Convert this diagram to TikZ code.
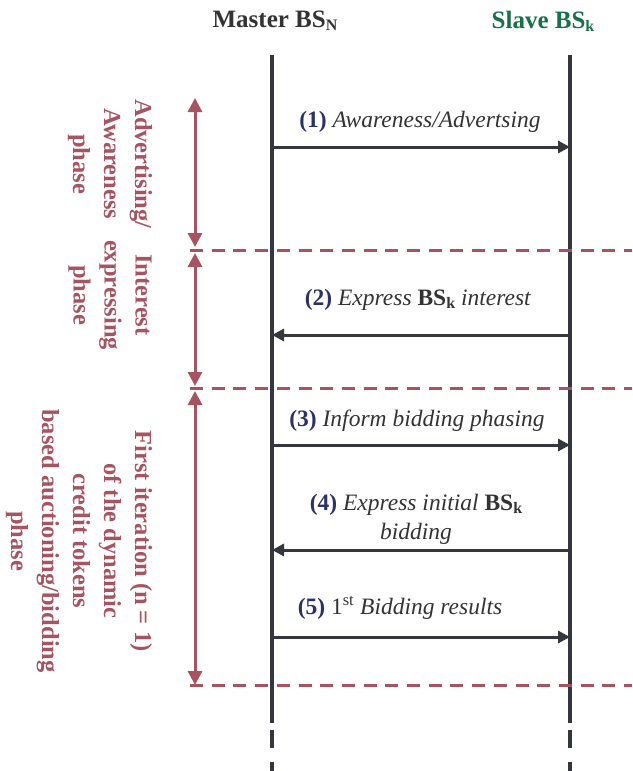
\documentclass[tikz,border=0pt]{standalone}
\usepackage{fontspec}
\setmainfont{Liberation Serif}
\usetikzlibrary{arrows.meta}
\definecolor{lifec}{HTML}{35373E}
\definecolor{phasec}{HTML}{A65461}
\definecolor{slavec}{HTML}{17704A}
\definecolor{numc}{HTML}{2E3163}
\definecolor{txtc}{HTML}{333333}
\newcommand{\subk}[1]{\raisebox{-0.28ex}{\fontsize{16}{16}\selectfont #1}}
\tikzset{
  lifeline/.style={line width=4pt, draw=lifec},
  lifedash/.style={line width=4pt, draw=lifec, dash pattern=on 18pt off 14pt},
  msg/.style={line width=3pt, draw=lifec, -{Triangle[length=12pt,width=12pt]}},
  phasesep/.style={line width=3pt, draw=phasec, dash pattern=on 13pt off 8.7pt},
  phasearrow/.style={line width=3pt, draw=phasec, {Triangle[length=14pt,width=14pt]}-{Triangle[length=14pt,width=14pt]}},
  title/.style={font=\fontsize{25}{28}\selectfont\bfseries, inner sep=0pt},
  msglabel/.style={font=\fontsize{23.5}{29}\selectfont, text=txtc, align=center, inner sep=0pt},
  phaselabel/.style={font=\fontsize{24.5}{31}\selectfont\bfseries, text=phasec, align=center, rotate=-90, inner sep=0pt}
}
\begin{document}
\begin{tikzpicture}[x=1pt,y=-1pt]
\useasboundingbox (0,0) rectangle (632,771);
% titles
\node[title, text=txtc] (master) at (275,21) {Master BS\subk{N}};
\node[title, text=slavec] (slave) at (543,21) {Slave BS\subk{k}};
% lifeline coordinates
\coordinate (mtop) at (272,55);
\coordinate (mbot) at (272,723);
\coordinate (mdash) at (272,730);
\coordinate (mend) at (272,771);
\coordinate (stop) at (570,55);
\coordinate (sbot) at (570,723);
\coordinate (sdash) at (570,730);
\coordinate (send) at (570,771);
\draw[lifeline] (mtop) -- (mbot);
\draw[lifeline] (stop) -- (sbot);
\draw[lifedash] (mdash) -- (mend);
\draw[lifedash] (sdash) -- (send);
% phase separators
\coordinate (sepAl) at (190,250); \coordinate (sepAr) at (632,250);
\coordinate (sepBl) at (190,388); \coordinate (sepBr) at (632,388);
\coordinate (sepCl) at (190,685); \coordinate (sepCr) at (632,685);
\draw[phasesep] (sepAl) -- (sepAr);
\draw[phasesep] (sepBl) -- (sepBr);
\draw[phasesep] (sepCl) -- (sepCr);
% phase arrows
\coordinate (pa1) at (195,98); \coordinate (pa2) at (195,247);
\coordinate (pb1) at (195,253); \coordinate (pb2) at (195,386);
\coordinate (pc1) at (195,391); \coordinate (pc2) at (195,685);
\draw[phasearrow] (pa1) -- (pa2);
\draw[phasearrow] (pb1) -- (pb2);
\draw[phasearrow] (pc1) -- (pc2);
% phase labels
\node[phaselabel] (phA) at (110,164) {Advertising/\\Awareness\\phase};
\node[phaselabel] (phB) at (110,295) {Interest\\expressing\\phase};
\node[phaselabel] (phC) at (79,541) {First iteration (n = 1)\\of the dynamic\\credit tokens\\based auctioning/bidding\\phase};
% messages
\coordinate (m1a) at (272,147); \coordinate (m1b) at (570,147);
\coordinate (m2a) at (570,335); \coordinate (m2b) at (272,335);
\coordinate (m3a) at (272,445); \coordinate (m3b) at (570,445);
\coordinate (m4a) at (570,550); \coordinate (m4b) at (272,550);
\coordinate (m5a) at (272,637); \coordinate (m5b) at (570,637);
\draw[msg] (m1a) -- (m1b);
\draw[msg] (m2a) -- (m2b);
\draw[msg] (m3a) -- (m3b);
\draw[msg] (m4a) -- (m4b);
\draw[msg] (m5a) -- (m5b);
\node[msglabel] (l1) at (420,122) {\textcolor{numc}{\bfseries(1)} \itshape Awareness/Advertsing};
\node[msglabel] (l2) at (418,300) {\textcolor{numc}{\bfseries(2)} \textit{Express} \textbf{BS\subk{k}} \textit{interest}};
\node[msglabel] (l3) at (417,421) {\textcolor{numc}{\bfseries(3)} \itshape Inform bidding phasing};
\node[msglabel] (l4) at (416,519) {\textcolor{numc}{\bfseries(4)} \textit{Express initial} \textbf{BS\subk{k}}\\\textit{bidding}};
\node[msglabel] (l5) at (400,608) {\textcolor{numc}{\bfseries(5)} 1\textsuperscript{st} \itshape Bidding results};
\end{tikzpicture}
\end{document}
